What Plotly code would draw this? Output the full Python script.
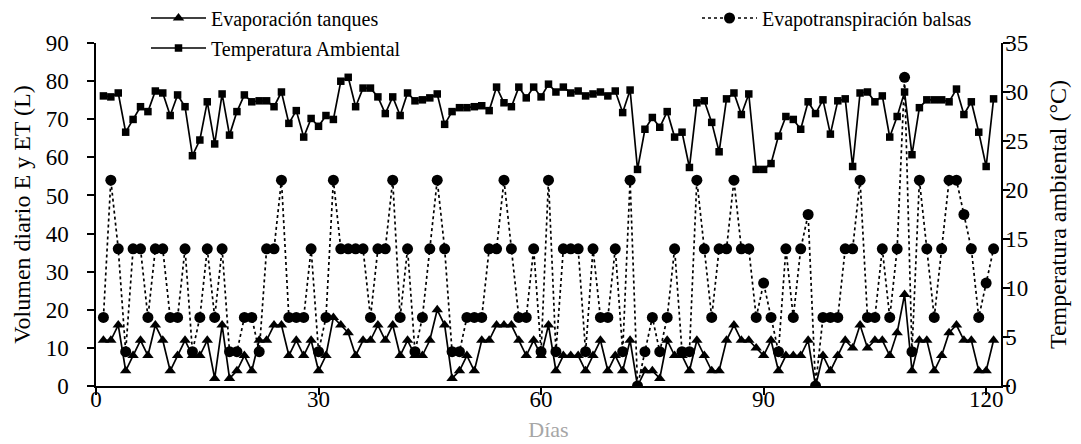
import plotly.graph_objects as go

days = list(range(1, 122))

evap_tanques = [
    12, 12, 16, 4, 8, 12, 8, 16, 12, 4,
    8, 12, 8, 8, 12, 2, 16, 2, 4, 8,
    4, 12, 12, 16, 16, 8, 12, 8, 12, 4,
    8, 18, 16, 14, 8, 12, 12, 16, 12, 16,
    8, 12, 8, 8, 12, 20, 16, 2, 4, 8,
    4, 12, 12, 16, 16, 16, 12, 8, 12, 8,
    16, 4, 8, 8, 8, 4, 8, 12, 4, 8,
    4, 12, 0, 4, 4, 2, 12, 8, 8, 4,
    12, 8, 4, 4, 12, 16, 12, 12, 10, 8,
    12, 4, 8, 8, 8, 12, 0, 8, 4, 8,
    12, 10, 16, 10, 12, 12, 8, 14, 24, 4,
    12, 12, 4, 8, 14, 16, 12, 12, 4, 4, 12,
]

et_balsas = [
    18, 54, 36, 9, 36, 36, 18, 36, 36, 18,
    18, 36, 9, 18, 36, 18, 36, 9, 9, 18,
    18, 9, 36, 36, 54, 18, 18, 18, 36, 9,
    18, 54, 36, 36, 36, 36, 18, 36, 36, 54,
    18, 36, 9, 18, 36, 54, 36, 9, 9, 18,
    18, 18, 36, 36, 54, 36, 18, 18, 36, 9,
    54, 9, 36, 36, 36, 9, 36, 18, 18, 36,
    9, 54, 0, 9, 18, 9, 18, 36, 9, 9,
    54, 36, 18, 36, 36, 54, 36, 36, 18, 27,
    18, 9, 36, 18, 36, 45, 0, 18, 18, 18,
    36, 36, 54, 18, 18, 36, 18, 36, 81, 9,
    54, 36, 18, 36, 54, 54, 45, 36, 18, 27, 36,
]

temp_amb = [
    29.6, 29.5, 29.9, 25.9, 27.2, 28.5, 28.0, 30.1, 29.9, 27.6,
    29.7, 28.5, 23.5, 25.1, 29.0, 24.7, 29.8, 25.6, 28.0, 29.7,
    29.0, 29.1, 29.1, 28.5, 30.0, 26.8, 28.1, 25.4, 27.3, 26.5,
    27.6, 27.2, 31.1, 31.5, 28.5, 30.4, 30.4, 29.5, 27.8, 29.5,
    27.6, 29.9, 29.1, 29.2, 29.4, 29.8, 26.7, 28.0, 28.4, 28.4,
    28.5, 28.6, 28.1, 30.5, 28.9, 28.5, 30.5, 29.4, 30.5, 29.5,
    30.8, 30.0, 30.5, 29.9, 30.1, 29.6, 29.8, 30.0, 29.6, 30.1,
    27.9, 30.2, 22.1, 26.2, 27.4, 26.4, 28.0, 25.4, 25.9, 22.3,
    28.9, 29.1, 26.9, 23.9, 29.3, 29.9, 27.7, 29.8, 22.1, 22.1,
    22.7, 25.5, 27.5, 27.2, 26.2, 29.0, 27.8, 29.2, 25.7, 29.1,
    29.3, 22.4, 29.9, 30.0, 29.0, 29.6, 25.4, 27.5, 30.0, 23.6,
    28.4, 29.2, 29.2, 29.2, 29.0, 30.3, 27.7, 29.0, 25.9, 22.4, 29.3,
]

x_ticks = [0, 30, 60, 90, 120]
y_ticks = [0, 10, 20, 30, 40, 50, 60, 70, 80, 90]
y2_ticks = [0, 5, 10, 15, 20, 25, 30, 35]

FONT = "Liberation Serif"
W, H = 1081, 444
L, R, T, B = 88, 88, 35, 66
PW, PH = W - L - R, H - T - B
TICK_SIZE = 23
TITLE_SIZE = 24


def px_x(px):
    return (px - L) / PW


def px_y(py):
    return (H - B - py) / PH


fig = go.Figure()

fig.add_trace(go.Scatter(
    x=days, y=evap_tanques, name="Evaporación tanques",
    mode="lines+markers",
    line=dict(color="black", width=1.7),
    marker=dict(symbol="triangle-up", size=10, color="black"),
    legend="legend",
))

fig.add_trace(go.Scatter(
    x=days, y=et_balsas, name="Evapotranspiración balsas",
    mode="lines+markers",
    line=dict(color="black", width=1.7, dash="dot"),
    marker=dict(symbol="circle", size=11, color="black"),
    legend="legend2",
))

fig.add_trace(go.Scatter(
    x=days, y=temp_amb, name="Temperatura Ambiental",
    mode="lines+markers", yaxis="y2",
    line=dict(color="black", width=1.7),
    marker=dict(symbol="square", size=7.5, color="black"),
    legend="legend3",
))

legend_common = dict(
    font=dict(family=FONT, size=20, color="black"),
    bgcolor="rgba(0,0,0,0)", borderwidth=0,
    itemwidth=55, xanchor="left", yanchor="middle",
)

axis_common = dict(
    ticks="outside", ticklen=7, tickwidth=1.5, tickcolor="black",
    showline=True, linecolor="black", linewidth=1.5,
    showgrid=False, zeroline=False,
    tickfont=dict(family=FONT, size=TICK_SIZE, color="black"),
)

fig.update_layout(
    width=W, height=H,
    margin=dict(l=L, r=R, t=T, b=B, autoexpand=False),
    paper_bgcolor="white", plot_bgcolor="white",
    font=dict(family=FONT, size=20, color="black"),
    showlegend=True,
    legend=dict(x=px_x(138), y=px_y(10), **legend_common),
    legend2=dict(x=px_x(689), y=px_y(10), **legend_common),
    legend3=dict(x=px_x(138), y=px_y(40), **legend_common),
    xaxis=dict(
        range=[0, 122], tickvals=x_ticks, ticklabelstandoff=-15, **axis_common,
        title=dict(text="Días", font=dict(family=FONT, size=22, color="#a6a6a6"), standoff=10),
    ),
    yaxis=dict(
        range=[0, 90], tickvals=y_ticks, ticklabelstandoff=14, **axis_common,
        title=dict(text="Volumen diario E y ET (L)", font=dict(family=FONT, size=TITLE_SIZE, color="black"), standoff=8),
    ),
    yaxis2=dict(
        range=[0, 35], tickvals=y2_ticks, ticklabelstandoff=-9, overlaying="y", side="right",
        **axis_common,
        title=dict(text="Temperatura ambiental (°C)", font=dict(family=FONT, size=TITLE_SIZE, color="black"), standoff=22),
    ),
)

fig.write_html("out.html")
